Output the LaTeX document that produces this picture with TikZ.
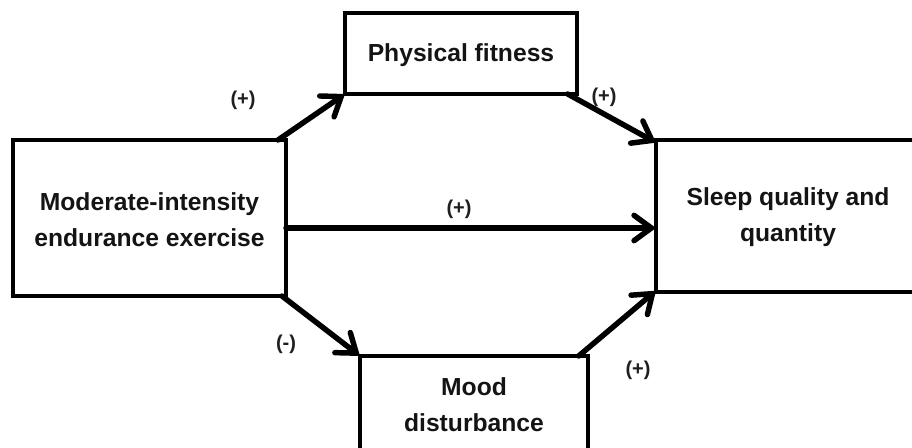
\documentclass[tikz,border=0pt]{standalone}
\usepackage{fontspec}
\setmainfont{Liberation Sans}
\usetikzlibrary{arrows.meta}
\begin{document}
\begin{tikzpicture}[x=0.75pt,y=-0.75pt,
  box/.style={draw=black, line width=3.5pt, rectangle, outer sep=0pt, inner sep=0pt},
  txt/.style={align=center, inner sep=0pt, text=black!92, font=\fontsize{18.5}{27}\selectfont\bfseries},
  lab/.style={inner sep=0pt, text=black!88, font=\fontsize{15}{18}\selectfont\bfseries},
  arr/.style={line width=4.1pt, line cap=round, -{Straight Barb[length=13pt,width=19pt,line cap=round]}}]
\useasboundingbox (0,0) rectangle (912,448);
\clip (0,0) rectangle (912,448);
% boxes
\node[box, minimum width=204.75pt, minimum height=117pt] (ex) at (149.5,218) {};
\node[txt] (extxt) at (149.5,220) {Moderate-intensity\\endurance exercise};
\node[box, minimum width=174pt, minimum height=60.75pt] (pf) at (461,53.5) {};
\node[txt] (pftxt) at (461,55) {Physical fitness};
\node[box, minimum width=201.75pt, minimum height=114pt] (sl) at (790.5,216) {};
\node[txt] (sltxt) at (788,217) {Sleep quality and\\quantity};
\node[box, minimum width=171pt, minimum height=100.5pt] (md) at (474,423) {};
\node[txt] (mdtxt) at (474,405) {Mood\\disturbance};
% connectors
\coordinate (h) at (0,228);
\draw[arr] ([xshift=-6pt]ex.north east) -- (pf.south west);
\draw[arr] ([xshift=-7pt]pf.south east) -- ([yshift=-2pt]sl.north west);
\draw[arr] (ex.east |- h) -- (sl.west |- h);
\draw[arr] ([xshift=-3pt]ex.south east) -- (md.north west);
\draw[arr] ([xshift=-7pt]md.north east) -- ([yshift=1pt]sl.south west);
% labels
\node[lab] (l1) at (243,100) {(+)};
\node[lab] (l2) at (604,97) {(+)};
\node[lab] (l3) at (459,209) {(+)};
\node[lab] (l4) at (286,344) {(-)};
\node[lab] (l5) at (638,370) {(+)};
\end{tikzpicture}
\end{document}
